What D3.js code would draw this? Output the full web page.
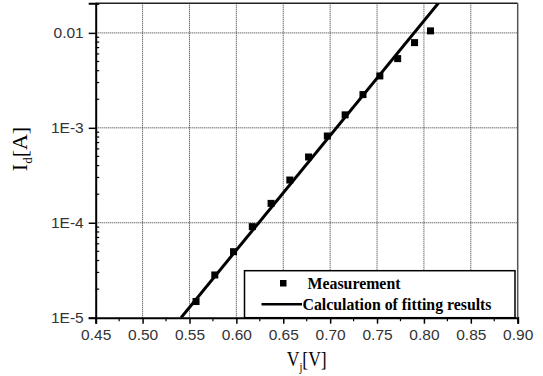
<!DOCTYPE html>
<html>
<head>
<meta charset="utf-8">
<script src="https://cdn.jsdelivr.net/npm/d3@7"></script>
<style>
  body { margin: 0; background: #fff; }
  svg { display: block; }
</style>
</head>
<body>
<svg></svg>
<script>
const width = 543;
const height = 376;
const plotL = 95.7, plotR = 517.7, plotT = 3.3, plotB = 317.7;

// measured diode current vs junction voltage
const measV = [0.557, 0.577, 0.597, 0.617, 0.637, 0.657, 0.677, 0.697, 0.716, 0.735, 0.753, 0.772, 0.790, 0.807];
const measI = [1.48e-5, 2.82e-5, 4.96e-5, 9.1e-5, 1.60e-4, 2.82e-4, 4.93e-4, 8.2e-4, 1.37e-3, 2.24e-3, 3.52e-3, 5.36e-3, 7.9e-3, 1.05e-2];
// fitted line end points
const fitV = [0.541, 0.8155];
const fitI = [1e-5, 2.06e-2];

const xTicks = [0.45, 0.50, 0.55, 0.60, 0.65, 0.70, 0.75, 0.80, 0.85, 0.90];
const yTicks = [1e-5, 1e-4, 1e-3, 1e-2];
const yTickLabels = ['1E-5', '1E-4', '1E-3', '0.01'];

const svg = d3.select('svg')
    .attr('width', width)
    .attr('height', height);

const x = d3.scaleLinear().domain([0.45, 0.90]).range([plotL, plotR]);
const y = d3.scaleLog().domain([1e-5, 0.0205]).range([plotB, plotT]);

svg.append('defs').append('clipPath')
    .attr('id', 'plot-clip')
  .append('rect')
    .attr('x', plotL).attr('y', plotT)
    .attr('width', plotR - plotL).attr('height', plotB - plotT);

// grid
svg.append('g').selectAll('line')
  .data(xTicks.slice(1, -1))
  .join('line')
    .attr('x1', d => x(d)).attr('x2', d => x(d))
    .attr('y1', plotT).attr('y2', plotB)
    .attr('stroke', '#333').attr('stroke-width', 1)
    .attr('stroke-dasharray', '1,1');

svg.append('g').selectAll('line')
  .data(yTicks.slice(1))
  .join('line')
    .attr('x1', plotL).attr('x2', plotR)
    .attr('y1', d => y(d)).attr('y2', d => y(d))
    .attr('stroke', '#333').attr('stroke-width', 1)
    .attr('stroke-dasharray', '1,1');

// frame top / right
svg.append('line')
    .attr('x1', plotL).attr('x2', plotR).attr('y1', plotT).attr('y2', plotT)
    .attr('stroke', '#222').attr('stroke-width', 1.5);
svg.append('line')
    .attr('x1', plotR).attr('x2', plotR).attr('y1', plotT).attr('y2', plotB)
    .attr('stroke', '#555').attr('stroke-width', 1.5);

// x axis
const xAxis = d3.axisBottom(x)
    .tickValues(xTicks)
    .tickFormat(d3.format('.2f'))
    .tickSize(6)
    .tickPadding(5);
const gx = svg.append('g')
    .attr('transform', `translate(0,${plotB})`)
    .call(xAxis);
gx.select('.domain').attr('stroke', '#000').attr('stroke-width', 2);
gx.selectAll('.tick line').attr('stroke-width', 1.5);
gx.selectAll('text')
    .attr('font-family', 'Liberation Sans, Arial, sans-serif')
    .attr('font-size', '15.5px')
    .attr('fill', '#333');

const xMinor = xTicks.slice(0, -1).map(d => d + 0.025);
svg.append('g').selectAll('line')
  .data(xMinor)
  .join('line')
    .attr('x1', d => x(d)).attr('x2', d => x(d))
    .attr('y1', plotB).attr('y2', plotB + 3.5)
    .attr('stroke', '#000').attr('stroke-width', 1.2);

// y axis
const yAxis = d3.axisLeft(y)
    .tickValues(yTicks)
    .tickFormat((d, i) => yTickLabels[i])
    .tickSize(7)
    .tickPadding(5);
const gy = svg.append('g')
    .attr('transform', `translate(${plotL},0)`)
    .call(yAxis);
gy.select('.domain').attr('stroke', '#000').attr('stroke-width', 2);
gy.selectAll('.tick line').attr('stroke-width', 1.5);
gy.selectAll('text')
    .attr('font-family', 'Liberation Sans, Arial, sans-serif')
    .attr('font-size', '15.5px')
    .attr('fill', '#333');

const yMinor = y.ticks().filter(d => {
  const m = Math.round(d / Math.pow(10, Math.floor(Math.log10(d) + 1e-9)));
  return m !== 1;
});
svg.append('g').selectAll('line')
  .data(yMinor)
  .join('line')
    .attr('x1', plotL).attr('x2', plotL + 3.5)
    .attr('y1', d => y(d)).attr('y2', d => y(d))
    .attr('stroke', '#000').attr('stroke-width', 1.2);

// fit line
svg.append('path')
    .datum(d3.zip(fitV, fitI))
    .attr('clip-path', 'url(#plot-clip)')
    .attr('fill', 'none')
    .attr('stroke', '#000')
    .attr('stroke-width', 3)
    .attr('d', d3.line().x(d => x(d[0])).y(d => y(d[1])));

// measurement points
svg.append('g').selectAll('rect')
  .data(d3.zip(measV, measI))
  .join('rect')
    .attr('x', d => x(d[0]) - 3.5)
    .attr('y', d => y(d[1]) - 3.5)
    .attr('width', 7).attr('height', 7)
    .attr('fill', '#000');

// legend
const lg = svg.append('g');
lg.append('rect')
    .attr('x', 244.5).attr('y', 270.7)
    .attr('width', 270.5).attr('height', 47)
    .attr('fill', '#fff')
    .attr('stroke', '#000').attr('stroke-width', 1.5);
lg.append('rect')
    .attr('x', 280).attr('y', 280)
    .attr('width', 6.5).attr('height', 6.5)
    .attr('fill', '#000');
lg.append('text')
    .attr('x', 307.5).attr('y', 288.5)
    .attr('font-family', 'Liberation Serif, Times New Roman, serif')
    .attr('font-weight', 'bold')
    .attr('font-size', '16px')
    .attr('textLength', 93)
    .attr('lengthAdjust', 'spacingAndGlyphs')
    .text('Measurement');
lg.append('line')
    .attr('x1', 261.5).attr('x2', 302)
    .attr('y1', 304.3).attr('y2', 304.3)
    .attr('stroke', '#000').attr('stroke-width', 2.5);
lg.append('text')
    .attr('x', 302.5).attr('y', 310)
    .attr('font-family', 'Liberation Serif, Times New Roman, serif')
    .attr('font-weight', 'bold')
    .attr('font-size', '16px')
    .attr('textLength', 189)
    .attr('lengthAdjust', 'spacingAndGlyphs')
    .text('Calculation of fitting results');

// axis titles
const xt = svg.append('text')
    .attr('transform', 'translate(306.7,366) scale(0.8,1)')
    .attr('text-anchor', 'middle')
    .attr('font-family', 'Liberation Serif, Times New Roman, serif')
    .attr('font-size', '22px');
xt.append('tspan').text('V');
xt.append('tspan').attr('font-size', '13px').attr('dy', 5).text('j');
xt.append('tspan').attr('dy', -5).text('[V]');

const yt = svg.append('text')
    .attr('transform', 'translate(27,149) rotate(-90)')
    .attr('text-anchor', 'middle')
    .attr('font-family', 'Liberation Serif, Times New Roman, serif')
    .attr('font-size', '22px');
yt.append('tspan').text('I');
yt.append('tspan').attr('font-size', '13px').attr('dy', 5).text('d');
yt.append('tspan').attr('dy', -5).text('[A]');
</script>
</body>
</html>
